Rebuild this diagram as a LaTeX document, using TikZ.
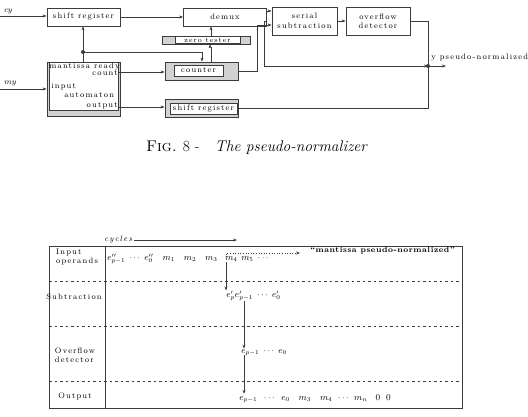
\documentclass[tikz,border=0pt]{standalone}
\usepackage{amsmath}
\usepackage{fontspec}
\usepackage{tikz}
\usetikzlibrary{arrows.meta, positioning, calc}
\definecolor{boxgray}{RGB}{210,210,210}
\definecolor{linegray}{RGB}{60,60,60}
\newfontfamily\spacedfont[LetterSpace=15]{Latin Modern Roman}
\newfontfamily\quotefont[LetterSpace=7]{Latin Modern Roman}
\newcommand{\spaced}{\spacedfont}

\begin{document}
\begin{tikzpicture}[x=1pt, y=-1pt, line width=0.6pt, draw=linegray,
    >={Stealth[length=4pt,width=3pt]},
    blk/.style={draw=linegray, line width=0.8pt, inner sep=0pt, font=\footnotesize\spaced},
    shadedblk/.style={blk, fill=boxgray},
    innerblk/.style={draw=linegray, line width=0.7pt, fill=white, inner sep=0.8pt, font=\footnotesize\spaced},
    lbl/.style={inner sep=0pt, font=\footnotesize\spaced},
    mathlbl/.style={inner sep=0pt, font=\small},
    rowlbl/.style={inner sep=0pt, font=\footnotesize\spaced, align=left}]
    \useasboundingbox (0,0) rectangle (528,417);

    % pseudo-normalizer — main blocks
    \node[blk, minimum width=73pt, minimum height=18pt] (sr1) at (83.5,17) {shift register};
    \node[blk, minimum width=83pt, minimum height=18pt] (demux) at (225,17) {demux};
    \node[blk, minimum width=65pt, minimum height=28pt, align=center] (sub) at (304.5,21) {serial\\subtraction};
    \node[blk, minimum width=64pt, minimum height=28pt, align=center] (ovf) at (378,21) {overflow\\detector};

    % zero tester and counter (gray frames)
    \node[shadedblk, minimum width=88pt, minimum height=8pt] (zt) at (206,40) {};
    \node[innerblk, minimum width=65pt, minimum height=7pt, font=\scriptsize\spaced] (ztin) at (207.5,40) {zero tester};
    \node[shadedblk, minimum width=73pt, minimum height=18pt] (cnt) at (201.5,71) {};
    \node[innerblk, minimum width=49pt, minimum height=11pt] (cntin) at (198.5,70.5) {counter};
    \node[shadedblk, minimum width=73pt, minimum height=18pt] (sr2) at (201.5,108) {};
    \node[innerblk, minimum width=67pt, minimum height=11pt] (sr2in) at (203.5,108.5) {shift register};

    % input automaton
    \node[shadedblk, minimum width=73pt, minimum height=54pt] (aut) at (83.5,89) {};
    \node[innerblk, minimum width=69pt, minimum height=48pt] (autin) at (83.5,86) {};
    \node[lbl, anchor=north west] (rdy) at (49,62.5) {mantissa ready};
    \node[lbl, anchor=north east] (cntlbl) at (118,70.5) {count};
    \node[lbl, anchor=north west] (inp) at (51,83) {input};
    \node[lbl, anchor=north west] (autlbl) at (64,92) {automaton};
    \node[lbl, anchor=north east] (outlbl) at (118,102) {output};

    % inputs
    \coordinate (cyin) at (0,16);
    \coordinate (myin) at (0,89);
    \node[lbl, anchor=south west] (cylbl) at (4,14) {$cy$};
    \node[lbl, anchor=south west] (mylbl) at (4,86) {$my$};
    \draw[->] (cyin) -- (cyin -| sr1.west);
    \draw[->] (myin) -- (myin -| aut.west);

    % connections
    \coordinate (split) at (83,52);
    \coordinate (jn) at (428,66);
    \coordinate (yout) at (446,66);
    \draw[->] (sr1.east) -- (demux.west);
    \draw[->] (split) -- (split |- sr1.south);
    \draw (split) -- (split |- aut.north);
    \draw[->] (split) -- (202,52) -- (202,52 |- cnt.north);
    \fill[linegray] (split) circle (2);
    \draw[->] (cntlbl.east |- 0,72) -- (cnt.west |- 0,72);
    \draw[->] (outlbl.east |- 0,107) -- (sr2.west |- 0,107);
    \draw[->, double, double distance=2pt, line width=0.5pt] (210,0 |- cnt.north) -- (210,0 |- zt.south);
    \draw[->] (211,0 |- zt.north) -- (211,0 |- demux.south);
    \draw[->] (demux.east |- 0,11) -- (sub.west |- 0,11);
    \draw[->] (cnt.east) -- (257,71) -- (257,25) -- (sub.west |- 0,25);
    \draw[->] (demux.east |- 0,21) -- (264,21) -- (264,66) -- (jn);
    \draw[->] (sub.east) -- (ovf.west);
    \draw (ovf.east) -- (ovf.east -| jn) -- (jn);
    \draw (sr2.east) -- (sr2.east -| jn) -- (jn);
    \fill[linegray] (jn) circle (2);
    \draw[->] (jn) -- (yout);
    \node[lbl, anchor=west] (ylbl) at (431,58) {y pseudo-normalized};

    % caption
    \node[inner sep=0pt, font=\fontsize{15.5}{18}\selectfont] (cap) at (257,148) {\textsc{Fig.} 8 -\quad\textit{The pseudo-normalizer}};

    % timing table
    \draw[line width=0.8pt] (49,246) rectangle (462,408);
    \draw[line width=0.8pt] (105,246) -- (105,408);
    \foreach \y in {281,326,381}
      \draw[dashed, dash pattern=on 2.5pt off 3pt] (49,\y) -- (462,\y);

    \node[lbl, anchor=base west] (cyc) at (104,242) {\textit{cycles}};
    \coordinate (cycend) at (237,240);
    \draw[->] (cyc.east) -- (cycend |- cyc.east);

    \node[rowlbl] (l1) at (77,257) {Input\\operands};
    \node[rowlbl] (l2) at (74,297) {Subtraction};
    \node[rowlbl] (l3) at (75,355) {Overflow\\detector};
    \node[rowlbl] (l4) at (75,396) {Output};

    \node[mathlbl, anchor=base west] (r1) at (107,261) {$e''_{p-1}\;\cdots\; e''_0\quad m_1\quad m_2\quad m_3$};
    \node[mathlbl, anchor=base west] (m4) at (225,261) {$m_4$};
    \node[mathlbl, anchor=base west] (r1b) at (241,261) {$m_5\;\cdots$};
    \node[inner sep=0pt, font=\footnotesize\quotefont\bfseries, anchor=base west] (quote) at (310,252) {“mantissa pseudo-normalized”};
    \node[mathlbl, anchor=base west] (r2) at (226,298) {$e'_p e'_{p-1}\;\cdots\; e'_0$};
    \node[mathlbl, anchor=base west] (r3) at (241,353) {$e_{p-1}\;\cdots\; e_0$};
    \node[mathlbl, anchor=base west] (r4) at (239,400) {$e_{p-1}\hspace{5pt}\cdots\hspace{5pt} e_0\hspace{9pt} m_3\hspace{9pt} m_4\hspace{4pt}\cdots\hspace{4pt} m_n\hspace{8pt} 0\hspace{6pt} 0$};

    \draw[dotted, ->] ([xshift=1pt]m4.north west) |- ([xshift=-10pt,yshift=-3pt]quote.west);
    \draw[->] ([xshift=1pt]m4.south west) -- ([xshift=1pt]m4.south west |- r2.north);
    \draw[->] ([xshift=3pt]r3.north west |- r2.south) -- ([xshift=3pt]r3.north west);
    \draw[->] ([xshift=3pt]r3.south west) -- ([xshift=3pt]r3.south west |- r4.north);
\end{tikzpicture}
\end{document}
